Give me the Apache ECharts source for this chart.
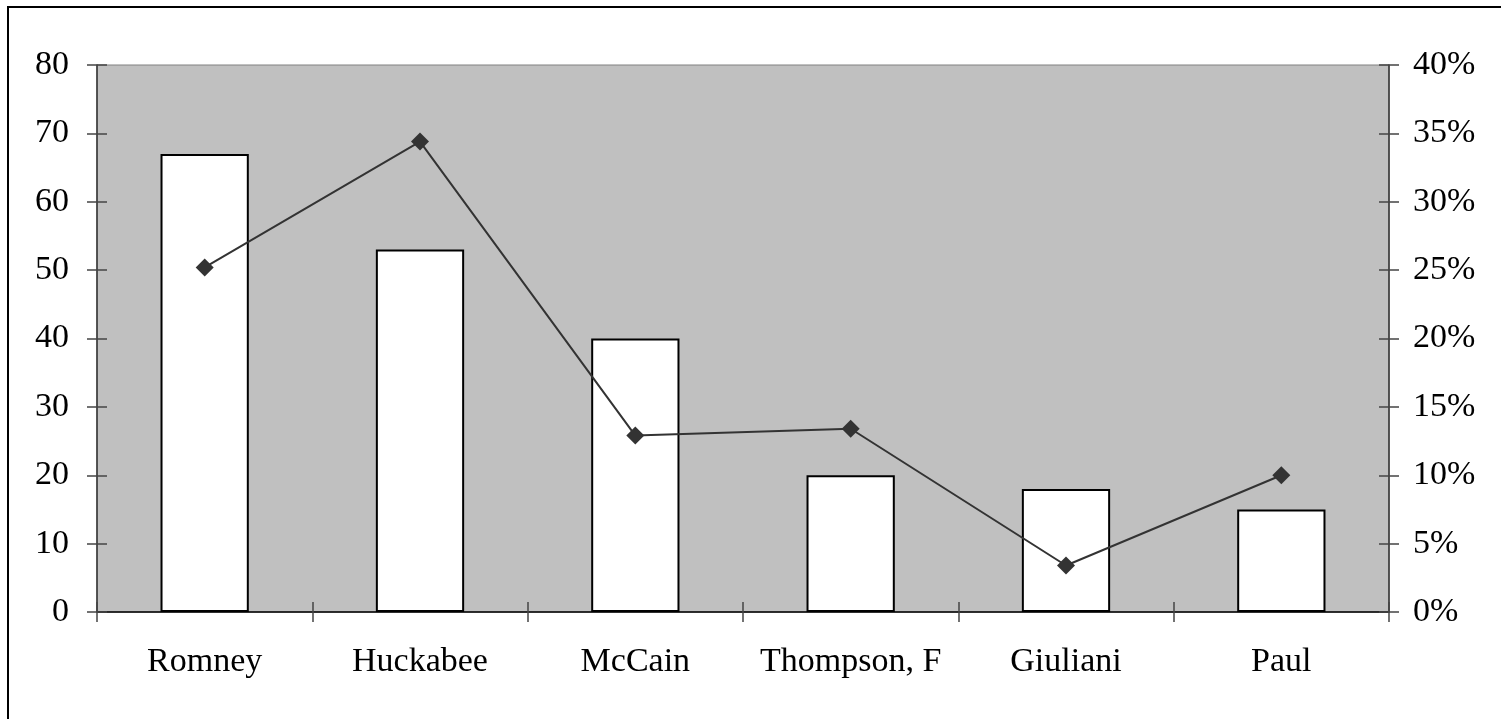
<!DOCTYPE html>
<html>
<head>
<meta charset="utf-8">
<script src="https://cdn.jsdelivr.net/npm/echarts@6/dist/echarts.min.js"></script>
<style>
  html, body { margin: 0; padding: 0; background: #fff; }
  #chart { width: 1501px; height: 719px; }
</style>
</head>
<body>
<div id="chart"></div>
<script>
// candidates and values
var candidates = ['Romney', 'Huckabee', 'McCain', 'Thompson, F', 'Giuliani', 'Paul'];
var counts = [67, 53, 40, 20, 18, 15];
var shares = [25.2, 34.4, 12.9, 13.4, 3.4, 10.0];

var leftTicks = { min: 0, max: 80, interval: 10 };
var rightTicks = { min: 0, max: 40, interval: 5 };

var font = '"Liberation Serif", "DejaVu Serif", serif';
var chart = echarts.init(document.getElementById('chart'));

var tickStyle = { color: '#444', width: 1.5 };

var option = {
    backgroundColor: '#fff',
    animation: false,
    textStyle: { fontFamily: font },
    graphic: [{
        // outer frame, cut off at the right and bottom
        type: 'rect',
        shape: { x: 8, y: 7, width: 1600, height: 800 },
        style: { fill: 'none', stroke: '#000', lineWidth: 2 },
        silent: true
    }],
    grid: {
        left: 97, right: 112, top: 65, bottom: 107,
        show: true, backgroundColor: '#c0c0c0', borderColor: '#808080', borderWidth: 1
    },
    xAxis: [{
        type: 'category',
        data: candidates,
        axisLine: { lineStyle: { color: '#000', width: 1.5 } },
        axisTick: { show: true, interval: 0, length: 10, lineStyle: tickStyle },
        axisLabel: { color: '#000', fontSize: 34, margin: 33, interval: 0, fontFamily: font }
    }, {
        // inner half of the crossing ticks
        type: 'category',
        data: candidates,
        position: 'bottom',
        show: true,
        axisLine: { show: false },
        axisTick: { show: true, interval: 0, inside: true, length: 10, lineStyle: tickStyle },
        axisLabel: { show: false }
    }],
    yAxis: [{
        type: 'value',
        min: leftTicks.min, max: leftTicks.max, interval: leftTicks.interval,
        axisLine: { show: true, lineStyle: { color: '#333', width: 1.5 } },
        axisTick: { show: true, length: 10, lineStyle: tickStyle },
        axisLabel: { color: '#000', fontSize: 34, margin: 28, fontFamily: font },
        splitLine: { show: false }
    }, {
        type: 'value',
        position: 'right',
        min: rightTicks.min, max: rightTicks.max, interval: rightTicks.interval,
        axisLine: { show: true, lineStyle: { color: '#333', width: 1.5 } },
        axisTick: { show: true, length: 10, lineStyle: tickStyle },
        axisLabel: { color: '#000', fontSize: 34, margin: 24, fontFamily: font, formatter: '{value}%' },
        splitLine: { show: false }
    }, {
        type: 'value',
        position: 'left',
        show: true,
        min: leftTicks.min, max: leftTicks.max, interval: leftTicks.interval,
        axisLine: { show: false },
        axisTick: { show: true, inside: true, length: 10, lineStyle: tickStyle },
        axisLabel: { show: false },
        splitLine: { show: false }
    }, {
        type: 'value',
        position: 'right',
        show: true,
        min: rightTicks.min, max: rightTicks.max, interval: rightTicks.interval,
        axisLine: { show: false },
        axisTick: { show: true, inside: true, length: 10, lineStyle: tickStyle },
        axisLabel: { show: false },
        splitLine: { show: false }
    }],
    series: [{
        type: 'bar',
        data: counts,
        yAxisIndex: 0,
        barWidth: '41%',
        itemStyle: { color: '#fff', borderColor: '#000', borderWidth: 2 }
    }, {
        type: 'line',
        data: shares,
        yAxisIndex: 1,
        symbol: 'diamond',
        symbolSize: 18,
        itemStyle: { color: '#333' },
        lineStyle: { color: '#333', width: 2 }
    }]
};

chart.setOption(option);
</script>
</body>
</html>
